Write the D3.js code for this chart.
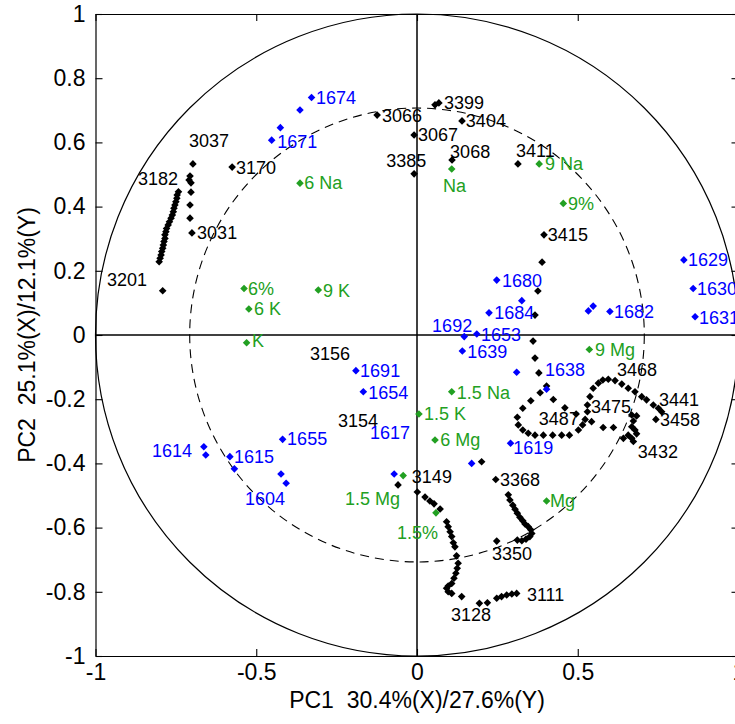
<!DOCTYPE html>
<html>
<head>
<meta charset="utf-8">
<script src="https://cdn.jsdelivr.net/npm/d3@7"></script>
<style>
  body { margin: 0; background: #fff; }
  svg { display: block; }
  text { font-family: "Liberation Sans", Arial, Helvetica, sans-serif; }
</style>
</head>
<body>
<svg id="chart" width="735" height="724"></svg>
<script>
// ---- axis settings ----
const xTicks = [-1, -0.5, 0, 0.5, 1];
const yTicks = [-1, -0.8, -0.6, -0.4, -0.2, 0, 0.2, 0.4, 0.6, 0.8, 1];
const xTickLabels = ["-1", "-0.5", "0", "0.5", "1"];
const yTickLabels = ["-1", "-0.8", "-0.6", "-0.4", "-0.2", "0", "0.2", "0.4", "0.6", "0.8", "1"];
const xTitle = "PC1  30.4%(X)/27.6%(Y)";
const yTitle = "PC2  25.1%(X)/12.1%(Y)";

// correlation circles: 100% and 50% explained variance
const outerRadius = 1.0;
const innerRadius = 0.707;

// ---- loadings: X variables (spectral variables, black) ----
const xVarPoints = [
  // column near 3037 / 3031
  [-0.697, 0.533], [-0.706, 0.495], [-0.709, 0.483], [-0.703, 0.474], [-0.703, 0.445],
  [-0.706, 0.405], [-0.706, 0.364], [-0.700, 0.318],
  // chain from 3182 downwards
  [-0.742, 0.446], [-0.746, 0.436], [-0.747, 0.426], [-0.750, 0.415], [-0.753, 0.405],
  [-0.756, 0.395], [-0.758, 0.384], [-0.761, 0.374], [-0.765, 0.364], [-0.770, 0.353],
  [-0.774, 0.343], [-0.779, 0.332], [-0.781, 0.322], [-0.784, 0.312], [-0.784, 0.301],
  [-0.787, 0.291], [-0.789, 0.280], [-0.791, 0.270], [-0.794, 0.260], [-0.796, 0.249],
  [-0.799, 0.239], [-0.802, 0.228],
  [-0.791, 0.138], [-0.575, 0.523],
  // upper centre
  [-0.124, 0.685], [0.056, 0.717], [0.068, 0.723], [0.140, 0.667], [-0.009, 0.623],
  [-0.009, 0.502], [0.109, 0.545], [0.314, 0.533],
  // 3415 down to the loop
  [0.395, 0.312], [0.389, 0.227], [0.376, 0.137], [0.367, 0.062], [0.361, -0.019],
  [0.367, -0.072], [0.379, -0.118], [0.403, -0.159], [0.424, -0.201], [0.460, -0.227],
  [0.495, -0.246],
  // outer loop
  [0.383, -0.180], [0.354, -0.205], [0.329, -0.228], [0.312, -0.256], [0.315, -0.280],
  [0.329, -0.296], [0.346, -0.306], [0.367, -0.312], [0.393, -0.312], [0.422, -0.312],
  [0.450, -0.312], [0.474, -0.312], [0.502, -0.296], [0.515, -0.280], [0.523, -0.263],
  [0.530, -0.239], [0.530, -0.218], [0.538, -0.192], [0.548, -0.166], [0.564, -0.150],
  [0.578, -0.140], [0.595, -0.138], [0.616, -0.142], [0.637, -0.153], [0.657, -0.166],
  [0.678, -0.177], [0.699, -0.192], [0.714, -0.202], [0.735, -0.218], [0.751, -0.228],
  [0.761, -0.239], [0.743, -0.263],
  // inner row and 3432 cluster
  [0.543, -0.270], [0.579, -0.288], [0.611, -0.288],
  [0.668, -0.249], [0.683, -0.252], [0.673, -0.268], [0.668, -0.286], [0.678, -0.296],
  [0.683, -0.308], [0.657, -0.312], [0.642, -0.322], [0.668, -0.322], [0.673, -0.332],
  // lower centre
  [0.201, -0.395], [-0.059, -0.467], [0.245, -0.450],
  // path 3149 -> 3128 -> 3111
  [0.001, -0.489], [0.025, -0.505], [0.040, -0.517], [0.053, -0.526], [0.072, -0.542],
  [0.092, -0.582], [0.097, -0.597], [0.103, -0.613], [0.108, -0.628], [0.113, -0.647],
  [0.118, -0.660], [0.123, -0.688], [0.128, -0.711], [0.125, -0.727], [0.121, -0.742],
  [0.115, -0.758], [0.108, -0.774], [0.097, -0.782], [0.092, -0.789], [0.097, -0.800],
  [0.108, -0.805], [0.139, -0.815], [0.194, -0.836], [0.219, -0.834], [0.248, -0.820],
  [0.263, -0.815], [0.279, -0.810], [0.295, -0.807], [0.310, -0.805],
  // path 3368 -> 3350
  [0.284, -0.498], [0.289, -0.514], [0.298, -0.530], [0.305, -0.543], [0.312, -0.555],
  [0.320, -0.568], [0.329, -0.579], [0.336, -0.589], [0.346, -0.597], [0.354, -0.607],
  [0.357, -0.618], [0.351, -0.628], [0.339, -0.636], [0.326, -0.641], [0.312, -0.639],
  [0.248, -0.642]
];

// ---- loadings: Y variables (blue) ----
const yVarPoints = [
  [-0.328, 0.740], [-0.364, 0.701], [-0.425, 0.646], [-0.452, 0.607],
  [0.248, 0.171], [0.326, 0.107], [0.224, 0.069], [0.533, 0.075], [0.548, 0.090],
  [0.600, 0.073], [0.830, 0.234], [0.859, 0.145], [0.865, 0.057],
  [0.147, -0.005], [0.186, 0.003], [0.141, -0.050], [0.310, -0.116], [0.403, -0.169],
  [-0.190, -0.111], [-0.167, -0.177], [-0.418, -0.325],
  [-0.663, -0.348], [-0.657, -0.374], [-0.582, -0.379], [-0.568, -0.417],
  [-0.423, -0.433], [-0.407, -0.462],
  [0.291, -0.337], [0.170, -0.400], [-0.071, -0.433]
];

// ---- design variables (green) ----
const designPoints = [
  [-0.364, 0.473], [0.108, 0.517], [0.380, 0.533], [0.455, 0.410], [-0.307, 0.140],
  [-0.538, 0.145], [-0.523, 0.081], [-0.530, -0.024], [0.536, -0.045], [0.108, -0.177],
  [0.006, -0.246], [0.056, -0.327], [-0.043, -0.438], [0.059, -0.554], [0.403, -0.517]
];

// ---- variable names, anchored at [text, x, y] ----
const xVarLabels = [
  ["3037", -0.709, 0.607], ["3182", -0.868, 0.486], ["3170", -0.563, 0.523],
  ["3031", -0.684, 0.318], ["3201", -0.964, 0.174], ["3066", -0.109, 0.685],
  ["3399", 0.084, 0.723], ["3404", 0.152, 0.667], ["3067", 0.003, 0.626],
  ["3385", -0.096, 0.545], ["3068", 0.103, 0.573], ["3411", 0.308, 0.576],
  ["3415", 0.407, 0.312], ["3156", -0.333, -0.059], ["3154", -0.246, -0.265],
  ["3149", -0.016, -0.442], ["3368", 0.258, -0.449], ["3468", 0.622, -0.109],
  ["3441", 0.753, -0.202], ["3458", 0.756, -0.262], ["3475", 0.541, -0.224],
  ["3487", 0.379, -0.259], ["3432", 0.687, -0.364], ["3350", 0.233, -0.682],
  ["3111", 0.342, -0.810], ["3128", 0.106, -0.872]
];
const yVarLabels = [
  ["1674", -0.314, 0.741], ["1671", -0.435, 0.604], ["1680", 0.264, 0.171],
  ["1684", 0.240, 0.069], ["1682", 0.613, 0.072], ["1629", 0.843, 0.234],
  ["1630", 0.871, 0.146], ["1631", 0.877, 0.056], ["1692", 0.047, 0.031],
  ["1653", 0.199, 0.003], ["1639", 0.156, -0.050], ["1638", 0.398, -0.109],
  ["1691", -0.177, -0.112], ["1654", -0.152, -0.178], ["1617", -0.146, -0.305],
  ["1655", -0.404, -0.324], ["1614", -0.824, -0.361], ["1615", -0.569, -0.380],
  ["1604", -0.535, -0.508], ["1619", 0.299, -0.349]
];
const designLabels = [
  ["6 Na", -0.351, 0.474], ["Na", 0.081, 0.467], ["9 Na", 0.398, 0.533],
  ["9%", 0.470, 0.411], ["9 K", -0.292, 0.140], ["6%", -0.526, 0.146],
  ["6 K", -0.507, 0.081], ["K", -0.513, -0.016], ["9 Mg", 0.554, -0.044],
  ["1.5 Na", 0.124, -0.178], ["1.5 K", 0.022, -0.246], ["6 Mg", 0.072, -0.327],
  ["1.5 Mg", -0.224, -0.508], ["1.5%", -0.062, -0.614], ["Mg", 0.414, -0.517]
];

// ---- drawing ----
const svg = d3.select("#chart");
const W = 735, H = 724;
const plot = { left: 95.5, right: 738.5, top: 14, bottom: 656 };

const x = d3.scaleLinear().domain([-1, 1]).range([plot.left, plot.right]);
const y = d3.scaleLinear().domain([-1, 1]).range([plot.bottom, plot.top]);

const colors = { xvar: "#000000", yvar: "#0000ff", design: "#22a022" };
const axisFont = 23, labelFont = 18;

// correlation circles
const g = svg.append("g");
g.append("ellipse")
  .attr("cx", x(0)).attr("cy", y(0))
  .attr("rx", x(outerRadius) - x(0)).attr("ry", y(0) - y(outerRadius))
  .attr("fill", "none").attr("stroke", "#000").attr("stroke-width", 1.2);
g.append("ellipse")
  .attr("cx", x(0)).attr("cy", y(0))
  .attr("rx", x(innerRadius) - x(0)).attr("ry", y(0) - y(innerRadius))
  .attr("fill", "none").attr("stroke", "#000").attr("stroke-width", 1.1)
  .attr("stroke-dasharray", "9,6");

// zero lines
g.append("line").attr("x1", x(-1)).attr("x2", x(1)).attr("y1", y(0)).attr("y2", y(0))
  .attr("stroke", "#000").attr("stroke-width", 1.5);
g.append("line").attr("x1", x(0)).attr("x2", x(0)).attr("y1", y(-1)).attr("y2", y(1))
  .attr("stroke", "#000").attr("stroke-width", 1.5);

// axes with inward ticks, box style
const tickLen = 7;
const fmtX = d => xTickLabels[xTicks.indexOf(d)];
const fmtY = d => yTickLabels[yTicks.indexOf(d)];

function styleAxis(sel) {
  sel.select(".domain").attr("stroke", "#000").attr("stroke-width", 1.2);
  sel.selectAll(".tick line").attr("stroke", "#000").attr("stroke-width", 1.1);
  sel.selectAll(".tick text").attr("fill", "#000").style("font-size", axisFont + "px")
    .style("font-family", "'Liberation Sans', Arial, sans-serif");
}

svg.append("g").attr("transform", `translate(0,${plot.bottom})`)
  .call(d3.axisBottom(x).tickValues(xTicks).tickFormat(fmtX)
    .tickSizeInner(-tickLen).tickSizeOuter(0).tickPadding(8))
  .call(styleAxis);
svg.append("g").attr("transform", `translate(0,${plot.top})`)
  .call(d3.axisTop(x).tickValues(xTicks).tickFormat("")
    .tickSizeInner(-tickLen).tickSizeOuter(0))
  .call(styleAxis);
svg.append("g").attr("transform", `translate(${plot.left},0)`)
  .call(d3.axisLeft(y).tickValues(yTicks).tickFormat(fmtY)
    .tickSizeInner(-tickLen).tickSizeOuter(0).tickPadding(10))
  .call(styleAxis);
svg.append("g").attr("transform", `translate(${plot.right},0)`)
  .call(d3.axisRight(y).tickValues(yTicks).tickFormat("")
    .tickSizeInner(-tickLen).tickSizeOuter(0))
  .call(styleAxis);

// axis titles
svg.append("text")
  .attr("x", x(0)).attr("y", 708)
  .attr("text-anchor", "middle")
  .style("font-size", axisFont + "px").style("white-space", "pre")
  .text(xTitle);
svg.append("text")
  .attr("transform", `translate(35,${y(0)}) rotate(-90)`)
  .attr("text-anchor", "middle")
  .style("font-size", axisFont + "px").style("white-space", "pre")
  .text(yTitle);

// diamond markers
const diamond = r => `M0,${-r}L${r},0L0,${r}L${-r},0Z`;
function drawMarkers(data, color, r) {
  svg.append("g").selectAll("path").data(data).join("path")
    .attr("d", diamond(r))
    .attr("transform", d => `translate(${x(d[0])},${y(d[1])})`)
    .attr("fill", color);
}
drawMarkers(xVarPoints, colors.xvar, 3.8);
drawMarkers(yVarPoints, colors.yvar, 3.8);
drawMarkers(designPoints, colors.design, 3.8);

// names
function drawLabels(data, color) {
  svg.append("g").selectAll("text").data(data).join("text")
    .attr("x", d => x(d[1])).attr("y", d => y(d[2]))
    .attr("dy", "0.36em")
    .attr("fill", color)
    .style("font-size", labelFont + "px")
    .text(d => d[0]);
}
drawLabels(xVarLabels, colors.xvar);
drawLabels(yVarLabels, colors.yvar);
drawLabels(designLabels, colors.design);
</script>
</body>
</html>
